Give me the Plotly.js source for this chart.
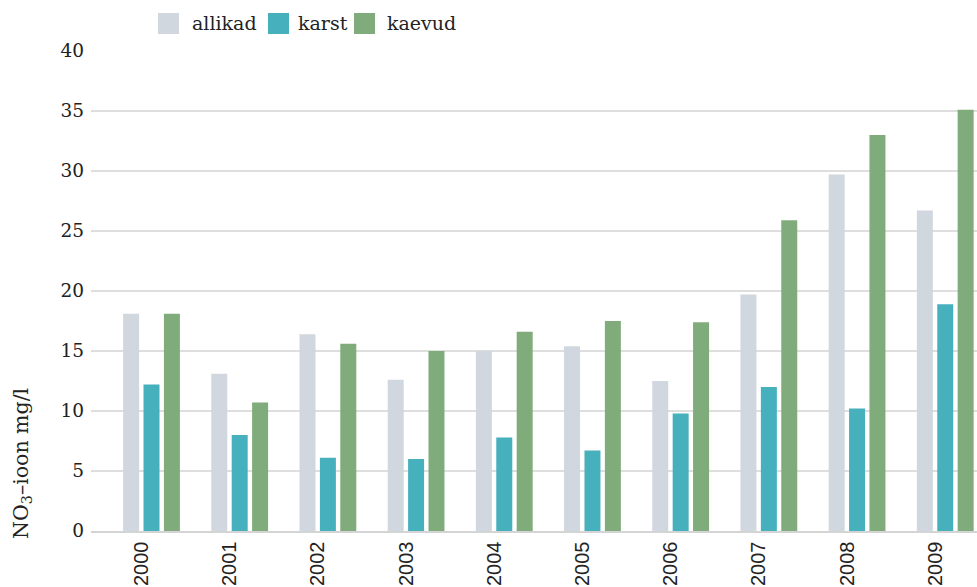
<!DOCTYPE html>
<html>
<head>
<meta charset="utf-8">
<script src="https://cdn.plot.ly/plotly-3.0.1.min.js"></script>
<style>html,body{margin:0;padding:0;background:#fff;}#chart{width:977px;height:587px;}</style>
</head>
<body>
<div id="chart"></div>
<script>
const years = ['2000','2001','2002','2003','2004','2005','2006','2007','2008','2009'];
const allikad = [18.1, 13.1, 16.4, 12.6, 15.0, 15.4, 12.5, 19.7, 29.7, 26.7];
const karst   = [12.2, 8.0, 6.1, 6.0, 7.8, 6.7, 9.8, 12.0, 10.2, 18.9];
const kaevud  = [18.1, 10.7, 15.6, 15.0, 16.6, 17.5, 17.4, 25.9, 33.0, 35.1];
const seriesNames = ['allikad','karst','kaevud'];
const colors = ['#d0d7de','#47b0bd','#7fac7a'];
const yTicks = [0,5,10,15,20,25,30,35,40];

const serif = 'DejaVu Serif, Liberation Serif, serif';
const data = [allikad, karst, kaevud].map((vals, i) => ({
  type: 'bar', x: years, y: vals, name: seriesNames[i],
  marker: {color: colors[i]}, showlegend: false, hoverinfo: 'x+y'
}));

// Custom legend (swatches + labels), placed in paper coordinates
const W = 886, H = 480, L = 91, T = 51;
const px = v => (v - L) / W;
const py = v => (T + H - v) / H;
const swatchX = [158, 268, 354];
const labelX = [190, 296, 385];
const shapes = swatchX.map((x, i) => ({
  type: 'rect', xref: 'paper', yref: 'paper',
  x0: px(x), x1: px(x + 21), y0: py(34), y1: py(13),
  fillcolor: colors[i], line: {width: 0}
}));
const annotations = seriesNames.map((n, i) => ({
  xref: 'paper', yref: 'paper', x: px(labelX[i]), y: py(23.5),
  xanchor: 'left', yanchor: 'middle', showarrow: false, text: n,
  font: {family: serif, size: 19, color: '#222'}
}));
annotations.push({
  xref: 'paper', yref: 'paper', x: px(22), y: py(464), textangle: -90,
  xanchor: 'center', yanchor: 'middle', showarrow: false,
  text: 'NO<sub>3</sub>–ioon mg/l',
  font: {family: serif, size: 20.5, color: '#222'}
});

const layout = {
  width: 977, height: 587,
  margin: {l: L, r: 0, t: T, b: 56, pad: 0},
  paper_bgcolor: '#fff', plot_bgcolor: '#fff',
  barmode: 'group', bargap: 0.306, bargroupgap: 0.216,
  xaxis: {
    type: 'category', range: [-0.686, 9.36], fixedrange: true,
    showgrid: false, zeroline: false, showline: true,
    linecolor: '#d4d4d4', linewidth: 1.5, ticks: '',
    tickangle: -90, ticklabelshift: -10, ticklabelstandoff: 1,
    tickfont: {family: 'Liberation Sans, Arial, sans-serif', size: 20, color: '#222'},
    automargin: false
  },
  yaxis: {
    range: [0, 40], tickvals: yTicks, ticktext: yTicks.map(String),
    showgrid: true, gridcolor: '#dedede', gridwidth: 1.5,
    zeroline: false, showline: false, ticks: '', ticklabelstandoff: 6,
    tickfont: {family: serif, size: 18.5, color: '#222'},
    automargin: false, fixedrange: true
  },
  shapes: shapes,
  annotations: annotations,
  showlegend: false
};

Plotly.newPlot('chart', data, layout, {displayModeBar: false, staticPlot: true});
</script>
</body>
</html>
